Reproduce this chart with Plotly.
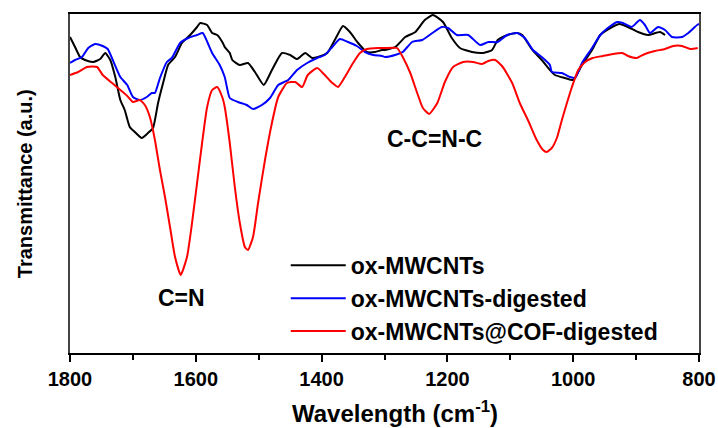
import plotly.graph_objects as go

# FTIR spectra (wavenumber in cm^-1, transmittance in arbitrary units)
wn_ox = [1800, 1792, 1784, 1776, 1763, 1752, 1744, 1736, 1728, 1720, 1713, 1705,
         1697, 1686, 1676, 1668, 1660, 1652, 1644, 1633, 1622, 1609, 1598, 1593,
         1582, 1574, 1566, 1557, 1554, 1546, 1542, 1530, 1517, 1506, 1492, 1479,
         1463, 1450, 1439, 1426, 1415, 1406, 1391, 1379, 1366, 1355, 1342, 1328,
         1315, 1304, 1299, 1283, 1267, 1251, 1236, 1223, 1207, 1193, 1180, 1161,
         1143, 1129, 1120, 1104, 1089, 1081, 1065, 1050, 1037, 1029, 1013, 1000,
         986, 970, 957, 941, 926, 913, 897, 881, 862, 854]
t_ox = [316, 306, 296, 293, 291, 294, 300, 293, 276, 253, 243, 226,
        221, 215, 220, 225, 250, 270, 288, 296, 310, 318, 326, 330,
        328, 320, 318, 310, 306, 300, 293, 288, 290, 281, 268, 283,
        300, 298, 294, 300, 295, 296, 300, 313, 327, 321, 310, 301,
        301, 303, 303, 306, 316, 321, 333, 338, 331, 315, 305, 301,
        300, 303, 313, 318, 320, 318, 303, 293, 283, 278, 275, 273,
        288, 303, 318, 325, 329, 326, 321, 318, 321, 318]

wn_dig = [1800, 1792, 1781, 1771, 1760, 1748, 1740, 1732, 1720, 1709, 1700, 1689,
          1678, 1670, 1665, 1657, 1646, 1638, 1625, 1612, 1598, 1589, 1581, 1574,
          1562, 1554, 1546, 1533, 1519, 1509, 1495, 1482, 1469, 1453, 1439, 1423,
          1407, 1395, 1383, 1371, 1358, 1344, 1331, 1318, 1304, 1299, 1283, 1271,
          1256, 1240, 1224, 1209, 1199, 1185, 1167, 1148, 1135, 1120, 1105, 1089,
          1077, 1064, 1050, 1037, 1034, 1018, 1005, 997, 986, 970, 957, 945,
          930, 921, 907, 894, 886, 878, 865, 854, 843, 827, 817, 803, 800]
t_dig = [290, 293, 296, 305, 309, 307, 304, 293, 276, 268, 256, 253,
         256, 260, 260, 275, 291, 295, 310, 315, 318, 320, 310, 300,
         288, 276, 255, 251, 248, 244, 248, 255, 268, 273, 283, 290,
         295, 298, 306, 314, 311, 307, 301, 298, 297, 296, 298, 301,
         311, 313, 320, 326, 325, 318, 318, 308, 311, 311, 318, 320,
         315, 303, 296, 288, 281, 280, 276, 275, 290, 305, 318, 325,
         331, 330, 326, 333, 328, 320, 326, 323, 316, 316, 320, 328, 329]

wn_cof = [1800, 1787, 1773, 1757, 1748, 1733, 1720, 1709, 1700, 1689, 1681, 1673,
          1665, 1657, 1649, 1641, 1633, 1624, 1614, 1606, 1598, 1590, 1582, 1574,
          1566, 1558, 1554, 1546, 1538, 1530, 1522, 1517, 1509, 1501, 1490, 1479,
          1469, 1455, 1442, 1431, 1422, 1407, 1395, 1383, 1374, 1363, 1350, 1339,
          1328, 1310, 1299, 1280, 1271, 1259, 1248, 1239, 1229, 1216, 1204, 1191,
          1175, 1159, 1145, 1135, 1124, 1112, 1097, 1085, 1072, 1058, 1048, 1042,
          1034, 1026, 1018, 1010, 1002, 992, 981, 969, 953, 937, 922, 913,
          899, 886, 870, 854, 841, 827, 814, 802]
t_cof = [278, 281, 286, 286, 278, 270, 263, 257, 251, 253, 248, 236,
         213, 183, 156, 126, 96, 78, 96, 130, 170, 210, 246, 263,
         266, 256, 246, 210, 166, 130, 106, 103, 116, 150, 193, 230,
         256, 270, 271, 266, 278, 285, 278, 270, 266, 276, 290, 300,
         304, 305, 305, 305, 296, 280, 260, 245, 239, 250, 271, 286,
         291, 291, 289, 292, 293, 286, 270, 250, 233, 213, 203, 201,
         205, 215, 233, 250, 266, 283, 291, 295, 297, 299, 300, 297,
         295, 299, 302, 304, 307, 307, 304, 305]

series = [
    ("ox-MWCNTs", wn_ox, t_ox, "#000000"),
    ("ox-MWCNTs-digested", wn_dig, t_dig, "#0000ff"),
    ("ox-MWCNTs@COF-digested", wn_cof, t_cof, "#ff0000"),
]

fig = go.Figure()
for name, x, y, color in series:
    fig.add_trace(go.Scatter(x=x, y=y, mode="lines", name=name,
                             line=dict(color=color, width=2,
                                       shape="spline", smoothing=0.5)))

font_main = "Arial, Liberation Sans, sans-serif"

# band assignments
fig.add_annotation(x=1622, y=55, text="<b>C=N</b>", showarrow=False,
                   font=dict(family=font_main, size=23, color="black"))
fig.add_annotation(x=1220, y=214, text="<b>C-C=N-C</b>", showarrow=False,
                   font=dict(family=font_main, size=23, color="black"))

# axis titles
fig.add_annotation(xref="paper", yref="paper", x=0.517, y=-0.174,
                   text="<b>Wavelength (cm<sup>-1</sup>)</b>", showarrow=False,
                   xanchor="center", yanchor="middle",
                   font=dict(family=font_main, size=24, color="black"))
fig.add_annotation(xref="paper", yref="paper", x=-0.072, y=0.50,
                   text="<b>Transmittance (a.u.)</b>", showarrow=False,
                   textangle=-90, xanchor="center", yanchor="middle",
                   font=dict(family=font_main, size=20, color="black"))

fig.update_layout(
    width=718, height=428,
    margin=dict(l=70, r=19, t=14, b=75),
    paper_bgcolor="white", plot_bgcolor="white",
    showlegend=True,
    legend=dict(x=0.343, y=0.322, xanchor="left", yanchor="top",
                bgcolor="rgba(0,0,0,0)", borderwidth=0,
                font=dict(family=font_main, size=23, color="black", weight="bold"),
                tracegroupgap=0, itemwidth=55),
    font=dict(family=font_main, color="black"),
)

fig.update_xaxes(
    range=[1800, 800], autorange=False, automargin=False,
    tickmode="array", tickvals=[1800, 1600, 1400, 1200, 1000, 800],
    ticktext=["<b>1800</b>", "<b>1600</b>", "<b>1400</b>", "<b>1200</b>", "<b>1000</b>", "<b>800</b>"],
    ticks="outside", ticklen=7, tickwidth=1.5, tickcolor="black",
    minor=dict(tickvals=[1700, 1500, 1300, 1100, 900], ticks="outside",
               ticklen=5, tickwidth=1.5, tickcolor="black"),
    tickfont=dict(family=font_main, size=20, color="black"),
    showline=True, linecolor="black", linewidth=2, mirror=True,
    showgrid=False, zeroline=False,
)
fig.update_yaxes(
    range=[0, 339], autorange=False, automargin=False,
    showticklabels=False, ticks="",
    showline=True, linecolor="#444444", linewidth=1.5, mirror=True,
    showgrid=False, zeroline=False,
)

fig.write_html("out.html")
